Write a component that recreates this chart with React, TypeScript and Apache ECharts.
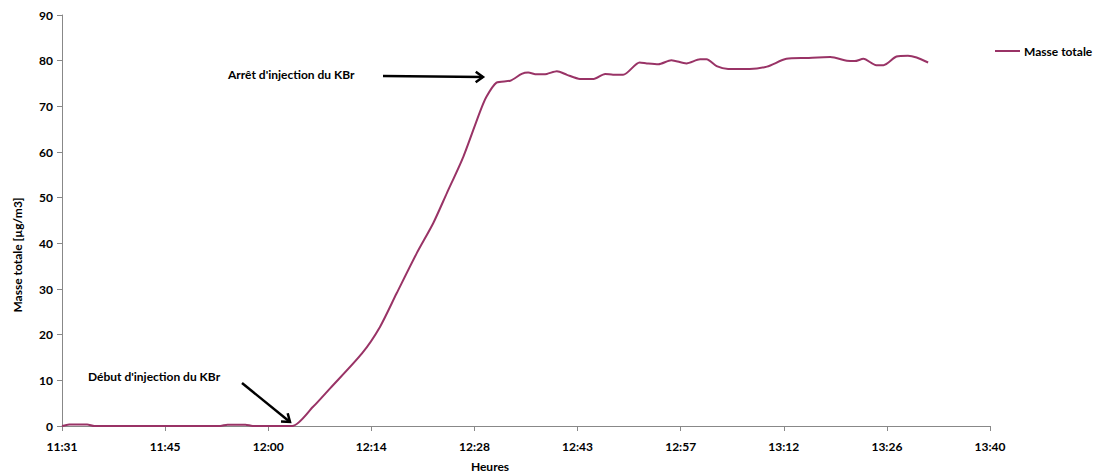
import React, { useEffect, useRef } from "react";
import * as echarts from "echarts";

// minutes after 11:31
const minutes = [0, 1, 3.5, 4.5, 22, 23, 25.5, 26.5, 32, 34.9, 37.3, 41.7, 44.2, 46.5, 49.3, 51.6, 53.5, 55.8, 58.1, 59.0, 60.4, 62.3, 63.9, 64.8, 66.0, 67.4, 68.8, 70.2, 72.0, 73.9, 75.5, 76.6, 78.0, 80.3, 81.3, 82.9, 84.7, 86.8, 88.7, 89.6, 91.0, 92.6, 95.6, 98.0, 100.7, 103.5, 106.8, 109.1, 110.2, 111.4, 113.2, 114.2, 116.0, 117.6, 118.8, 120.4];
const masseTotale = [0, 0.35, 0.35, 0, 0, 0.3, 0.3, 0, 0, 4.2, 8.3, 15.9, 21.7, 29.0, 37.8, 44.4, 51.0, 59.0, 68.8, 72.1, 75.2, 75.6, 77.1, 77.4, 77.0, 77.1, 77.7, 76.9, 76.0, 76.0, 77.1, 76.9, 76.9, 79.6, 79.4, 79.2, 80.1, 79.4, 80.3, 80.3, 78.8, 78.2, 78.2, 78.7, 80.4, 80.6, 80.8, 80.0, 79.9, 80.4, 79.0, 79.0, 80.9, 81.1, 80.7, 79.6];
const xTickLabels = ["11:31", "11:45", "12:00", "12:14", "12:28", "12:43", "12:57", "13:12", "13:26", "13:40"];
const seriesName = "Masse totale";
const yAxisTitle = "Masse totale [µg/m3]";
const xAxisTitle = "Heures";
const annotStart = "Début d'injection du KBr";
const annotStop = "Arrêt d'injection du KBr";

const FONT = "Lato, 'Open Sans', sans-serif";

export default function App() {
  const ref = useRef<HTMLDivElement>(null);
  useEffect(() => {
    if (!ref.current) return;
    const chart = echarts.init(ref.current, undefined, { renderer: "svg" });
    const span = 129;
    const interval = span / 9;
    const arrow = (x1: number, y1: number, x2: number, y2: number) => {
      const ang = Math.atan2(y2 - y1, x2 - x1);
      const L = 9;
      const a1 = ang + Math.PI * 0.8;
      const a2 = ang - Math.PI * 0.8;
      return {
        type: "group",
        children: [
          { type: "line", shape: { x1, y1, x2, y2 }, style: { stroke: "#000", lineWidth: 2.5 } },
          {
            type: "polyline",
            shape: {
              points: [
                [x2 + L * Math.cos(a1), y2 + L * Math.sin(a1)],
                [x2, y2],
                [x2 + L * Math.cos(a2), y2 + L * Math.sin(a2)],
              ],
            },
            style: { stroke: "#000", lineWidth: 2.5, fill: "none" },
          },
        ],
      };
    };
    const txt = { fontFamily: FONT, fontWeight: "bold", fontSize: 12, fill: "#000" };
    chart.setOption({
      animation: false,
      textStyle: { fontFamily: FONT },
      grid: { left: 62, right: 103, top: 15, bottom: 47, containLabel: false },
      legend: {
        data: [seriesName],
        left: 990,
        top: 40,
        icon: "rect",
        itemWidth: 25,
        itemHeight: 2,
        itemGap: 4,
        textStyle: { fontFamily: FONT, fontWeight: "bold", fontSize: 12, color: "#000", padding: [0, 0, 0, -1] },
      },
      xAxis: {
        type: "value",
        min: 0,
        max: span,
        interval,
        axisLine: { lineStyle: { color: "#888", width: 1 } },
        axisTick: { show: true, length: 5, lineStyle: { color: "#888" } },
        splitLine: { show: false },
        axisLabel: {
          margin: 14,
          fontFamily: FONT,
          fontWeight: "bold",
          fontSize: 12,
          color: "#000",
          formatter: (v: number) => xTickLabels[Math.round(v / interval)] ?? "",
        },
      },
      yAxis: {
        type: "value",
        min: 0,
        max: 90,
        interval: 10,
        axisLine: { show: true, lineStyle: { color: "#888", width: 1 } },
        axisTick: { show: true, length: 5, lineStyle: { color: "#888" } },
        splitLine: { show: false },
        axisLabel: { margin: 9, fontFamily: FONT, fontWeight: "bold", fontSize: 12, color: "#000" },
      },
      series: [
        {
          name: seriesName,
          type: "line",
          data: minutes.map((m, i) => [m, masseTotale[i]]),
          showSymbol: false,
          smooth: 0.25,
          lineStyle: { color: "#993366", width: 2 },
          itemStyle: { color: "#993366" },
        },
      ],
      graphic: [
        {
          type: "text",
          x: 17,
          y: 255,
          rotation: Math.PI / 2,
          style: { ...txt, text: yAxisTitle, align: "center", verticalAlign: "middle" },
        },
        {
          type: "text",
          x: 490,
          y: 466,
          style: { ...txt, text: xAxisTitle, align: "center", verticalAlign: "middle" },
        },
        {
          type: "text",
          x: 88,
          y: 376,
          style: { ...txt, text: annotStart, align: "left", verticalAlign: "middle" },
        },
        {
          type: "text",
          x: 228,
          y: 74,
          style: { ...txt, text: annotStop, align: "left", verticalAlign: "middle" },
        },
        arrow(242, 383, 290, 422),
        arrow(383, 76, 483, 77),
      ],
    });
    return () => chart.dispose();
  }, []);
  return <div ref={ref} style={{ position: "absolute", left: 0, top: 0, width: 1093, height: 473 }} />;
}
